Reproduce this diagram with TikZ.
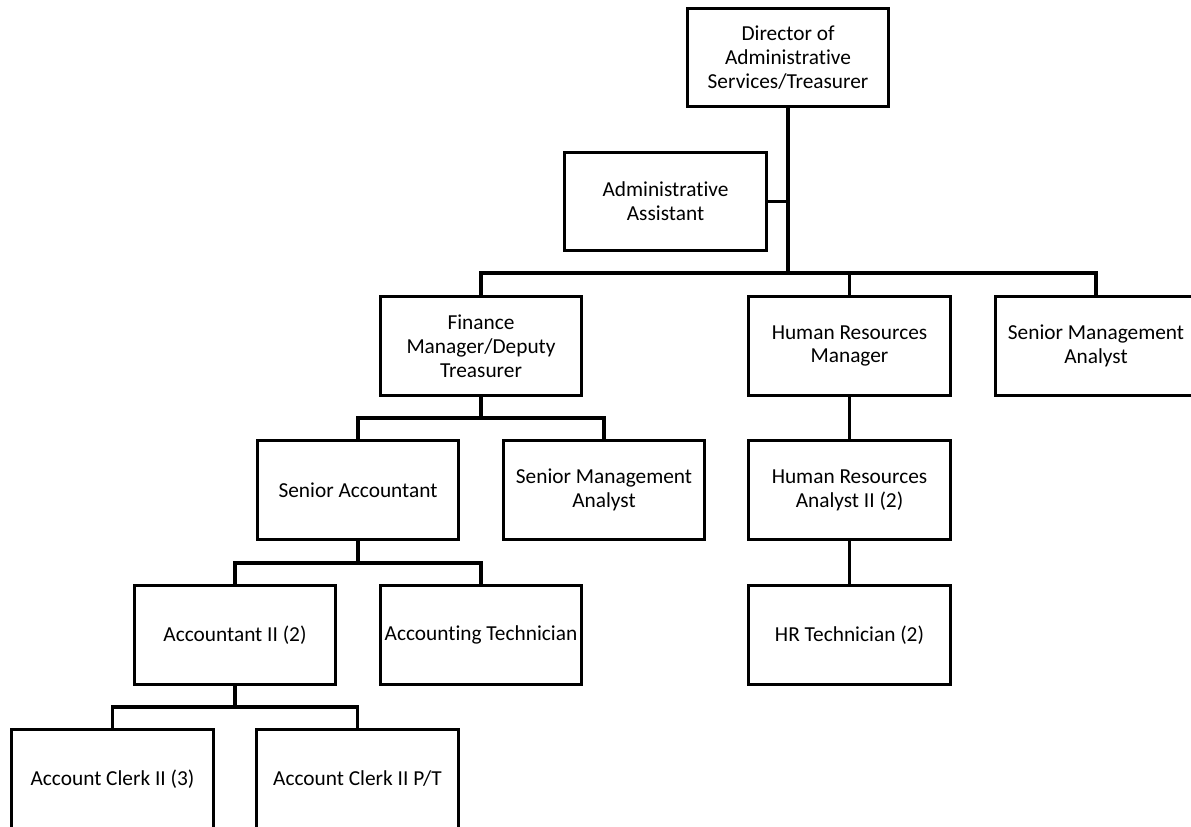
\documentclass[tikz,border=0pt]{standalone}
\usepackage{fontspec}
\setmainfont[Ligatures={NoCommon}]{Carlito}
\begin{document}
\begin{tikzpicture}[x=0.75pt,y=-0.75pt,
  box/.style={draw=black,line width=2.3pt,fill=white,minimum width=151pt,minimum height=74pt,
    inner sep=2pt,align=center,font=\fontsize{16}{17.8}\selectfont},
  conn/.style={line width=2.4pt,line cap=rect}]
\useasboundingbox (0,0) rectangle (1191,826);
\clip (0,0) rectangle (1191,826);
\node[box] (dir) at (788,57.5) {Director of\\Administrative\\Services/Treasurer};
\node[box] (aa) at (665.5,201.5) {Administrative\\Assistant};
\node[box] (fin) at (481,346) {Finance\\Manager/Deputy\\Treasurer};
\node[box] (hr) at (849.5,346) {Human Resources\\Manager};
\node[box] (sma1) at (1096,346) {Senior Management\\Analyst};
\node[box] (sacc) at (358,490) {Senior Accountant};
\node[box] (sma2) at (604,490) {Senior Management\\Analyst};
\node[box] (hra) at (849.5,490) {Human Resources\\Analyst II (2)};
\node[box] (acc2) at (235,635) {Accountant II (2)};
\node[box] (atech) at (481,635) {Accounting Technician};
\node[box] (hrt) at (849.5,635) {HR Technician (2)};
\node[box] (cl3) at (112.5,779) {Account Clerk II (3)};
\node[box] (clpt) at (357.5,779) {Account Clerk II P/T};
\coordinate (b1) at (788,273);
\coordinate (b2) at (481,418);
\coordinate (b3) at (358,563);
\coordinate (b4) at (235,707);
\draw[conn] (dir.south) -- (b1);
\draw[conn] (aa.east) -- (aa.east -| dir.south);
\draw[conn] (fin.north) |- (b1) -| (sma1.north);
\draw[conn] (hr.north) -- (hr.north |- b1);
\draw[conn] (fin.south) -- (b2);
\draw[conn] (sacc.north) |- (b2) -| (sma2.north);
\draw[conn] (hr.south) -- (hra.north);
\draw[conn] (hra.south) -- (hrt.north);
\draw[conn] (sacc.south) -- (b3);
\draw[conn] (acc2.north) |- (b3) -| (atech.north);
\draw[conn] (acc2.south) -- (b4);
\draw[conn] (cl3.north) |- (b4) -| (clpt.north);
\end{tikzpicture}
\end{document}
